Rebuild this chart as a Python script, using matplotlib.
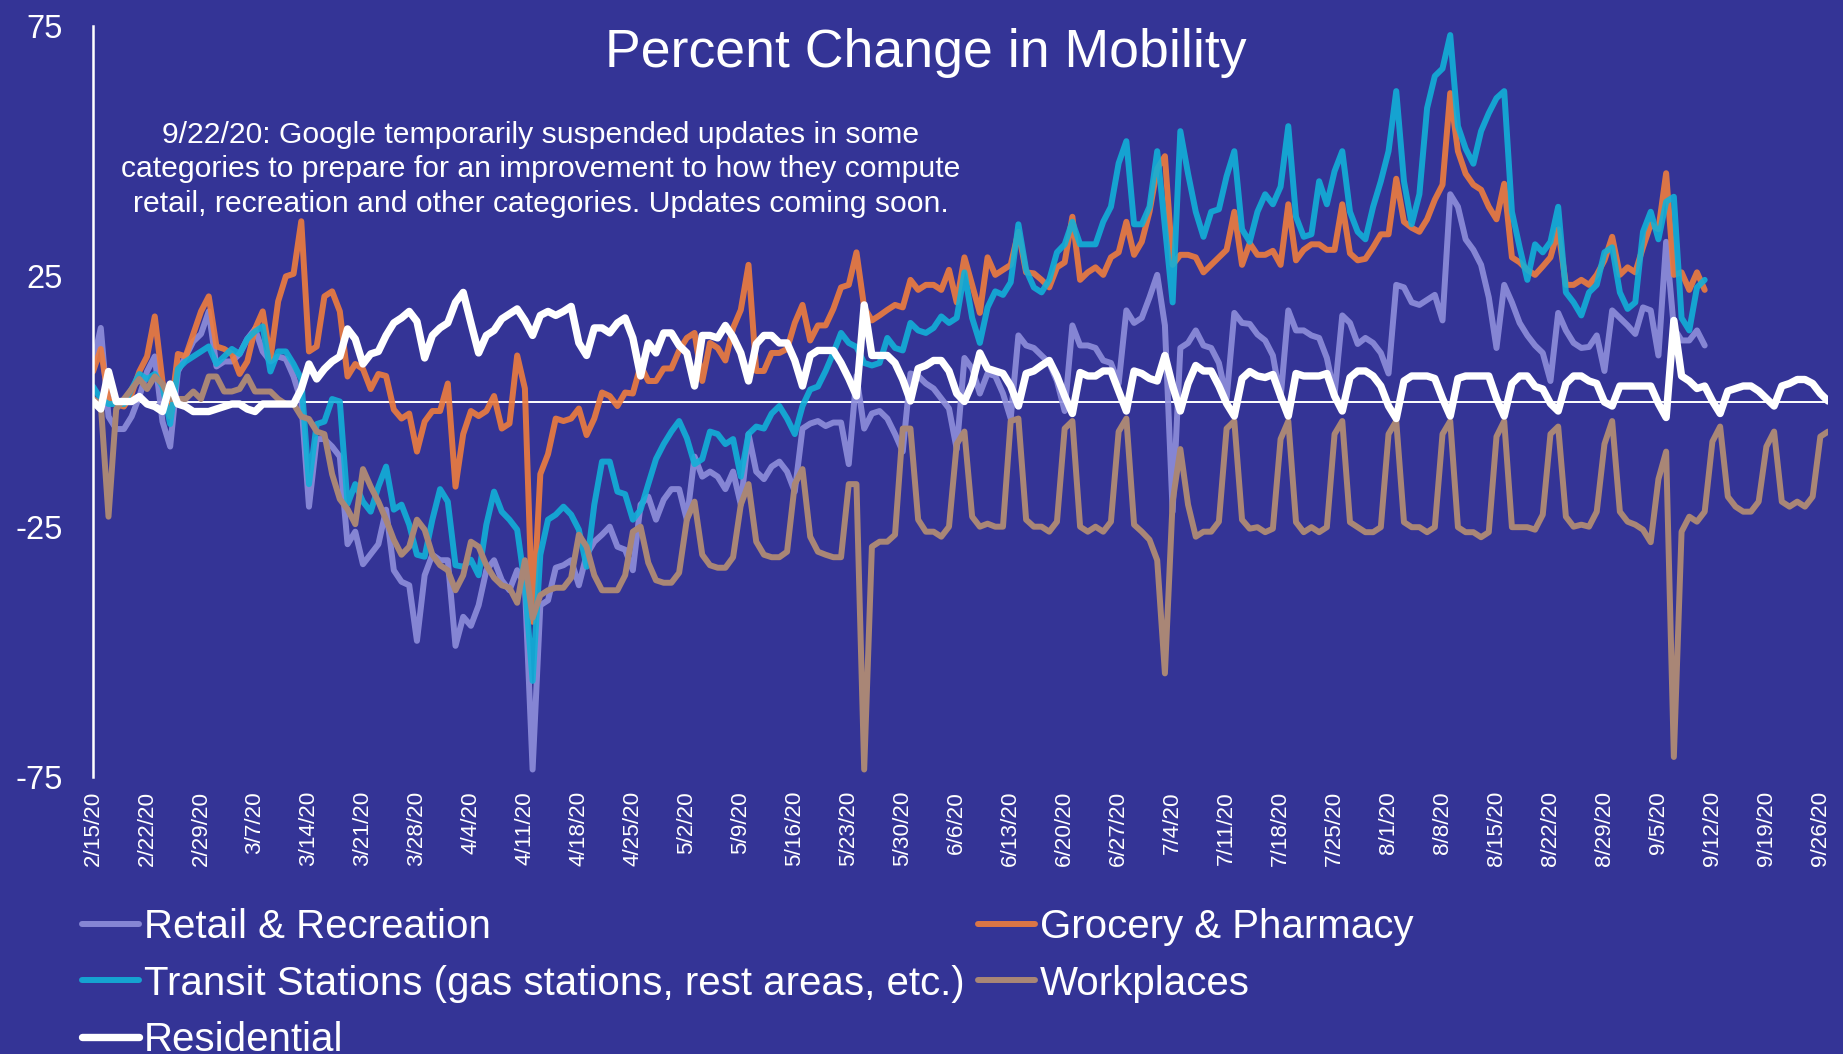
import matplotlib
matplotlib.use("Agg")
import matplotlib.pyplot as plt
import numpy as np

plt.rcParams['font.family'] = ['Liberation Sans', 'DejaVu Sans']
plt.rcParams['axes.unicode_minus'] = False

# daily values, day 0 = 2/15/20
retail = [
    7.7, 14.7, -3, -5.5, -5.5, -3, 1,
    6, 9, -4, -9, 6, 9, 12,
    13.5, 18, 7, 8, 8, 9.5, 12.5,
    14.5, 10, 8, 9, 8.5, 5, 0,
    -21, -7.5, -7.5, -9, -11, -28.5, -26,
    -32.5, -30.5, -28.5, -21.6, -33.7, -36, -36.7,
    -47.8, -34.7, -30.6, -31.7, -31.7, -48.8, -43,
    -44.8, -40.7, -33.7, -31.7, -35.7, -37.7, -33.7,
    -36.7, -73.5, -40.7, -39.7, -33.2, -32.7, -31.7,
    -36.7, -30.6, -28, -26.6, -25, -29, -29.6,
    -33.7, -20.6, -19, -23.6, -19.6, -17.5, -17.5,
    -23.6, -11, -15, -14, -15, -17.5, -14,
    -20.6, -6.5, -14, -15.5, -13, -12, -14,
    -18, -5.4, -4.4, -3.9, -4.9, -4.2, -4.2,
    -12.5, 5.1, -5.4, -2.4, -1.9, -3.4, -6.5,
    -10, 5.6, 5.1, 3.6, 2.6, 0.6, -1.4,
    -9.5, 8.7, 6.6, 1.6, 5.6, 5.1, 1.6,
    -3.4, 13.2, 11.2, 10.7, 9.2, 7.7, 4.1,
    -1.9, 15.2, 11.2, 11.2, 10.7, 8.2, 7.7,
    3.6, 18.2, 15.7, 16.7, 20.8, 25.3, 15.2,
    -22, 10.7, 11.7, 14.2, 11.2, 10.7, 7.7,
    0.6, 17.7, 15.7, 15.5, 13.4, 12.2, 9.2,
    0.6, 18.2, 14.2, 14.2, 13.2, 12.7, 8.7,
    1.4, 17.2, 15.7, 11.5, 12.7, 11.7, 9.7,
    5.6, 23.3, 22.8, 19.8, 19.3, 20.3, 21.3,
    16.2, 41.4, 38.9, 32.4, 30.3, 27.3, 20.8,
    10.7, 23.3, 19.8, 15.7, 13.2, 11.2, 9.7,
    4.1, 17.7, 14.2, 11.7, 10.7, 10.9, 13.2,
    6.1, 18.2, 16.7, 15.2, 13.5, 18.8, 18.2,
    9.2, 31.9, 14.7, 12.2, 12.2, 14.2, 11.2,
]

grocery = [
    6, 10.5, 0.5, -0.5, -1, 1.5, 6,
    9, 17, 4, -3, 9.5, 9, 13.5,
    18, 21, 11, 10.5, 9.5, 5.5, 8,
    14.5, 18, 8.5, 20, 25, 25.5, 36,
    10, 11, 21, 22, 18, 5, 7.5,
    6.5, 2.5, 5.5, 5.1, -1.6, -3.4, -2.4,
    -10, -4, -1.9, -1.9, 3.6, -17, -6.5,
    -1.9, -2.9, -1.9, 1.1, -5.4, -4.4, 9.2,
    2.6, -44, -14.5, -10.5, -3.4, -3.9, -3.4,
    -1.4, -6.7, -3.4, 1.8, 1.1, -0.9, 1.8,
    1.6, 7.2, 4.1, 4.1, 6.6, 6.6, 10.2,
    12.7, 13.7, 4.1, 11.7, 10.7, 8.2, 14.7,
    18.3, 27.3, 6.1, 6.1, 9.7, 9.7, 10.5,
    15.7, 19.3, 12.2, 15.2, 15.2, 18.5, 22.8,
    23.3, 29.8, 18.8, 16.2, 17.2, 18.3, 19.3,
    18.8, 24.3, 22.3, 23.3, 23.3, 22.3, 26.3,
    19.8, 28.8, 23.3, 17.7, 28.8, 25.3, 26.3,
    27.3, 33.9, 25.8, 25.6, 24.3, 22.8, 26.8,
    27.8, 36.9, 24.3, 25.8, 26.8, 25.3, 28.8,
    29.8, 35.9, 29.3, 31.9, 37.9, 46.5, 49,
    27.3, 29.3, 29.3, 28.8, 25.8, 27.3, 28.8,
    30.3, 37.9, 27.3, 31.6, 29.3, 29.3, 30.1,
    27.3, 39.4, 28.2, 30.3, 31.4, 31.4, 30.3,
    30.3, 39.4, 29.6, 28.2, 28.5, 30.8, 33.4,
    33.4, 44.5, 35.9, 34.7, 33.9, 36.4, 40.3,
    43.3, 61.6, 50, 45.5, 43.3, 42.3, 38.9,
    36.4, 43.5, 28.8, 27.8, 26.3, 25.3, 27,
    28.8, 34.4, 23.3, 23.3, 24.3, 23.3, 25.3,
    28.2, 32.9, 25.3, 26.8, 25.8, 30.8, 35.4,
    34.4, 45.6, 25.3, 25.8, 22.3, 25.8, 22.3,
]

transit = [
    3, 0.5, -0.5, -0.5, -0.5, 2.5, 5.5,
    4.5, 5.5, 3, -4.5, 6.5, 8, 9,
    10, 11, 7.5, 9, 10.5, 9.5, 12.5,
    14, 15, 6, 10, 10, 7.5, 4.5,
    -16.5, -4.5, -4, 0.5, 0, -20.5, -16.5,
    -20, -22, -17, -13, -21.6, -20.6, -24.6,
    -30.6, -31, -23.6, -17.5, -20, -32.7, -33,
    -31.6, -34.7, -24.6, -18, -22, -23.6, -25.6,
    -36.7, -55.8, -30.6, -23.6, -22.6, -21, -22.6,
    -25.6, -33, -20.6, -12, -12, -18, -18.5,
    -23.6, -21.6, -16.5, -11.5, -8.5, -6, -3.9,
    -7.3, -12.5, -11.5, -6, -6.5, -8.5, -7.5,
    -15, -6.5, -5, -5.4, -2.4, -0.9, -3.4,
    -6.5, -0.9, 2.4, 3, 6.1, 9.7, 13.7,
    11.7, 10.9, 7.7, 7.2, 7.7, 12.7, 10.7,
    10.2, 15.7, 14.2, 13.7, 14.7, 17, 15.7,
    16.7, 25.8, 16.7, 11.7, 18.8, 22, 21.3,
    23.8, 35.4, 26.3, 22.8, 21.8, 24.3, 29.8,
    31.4, 35.9, 31.4, 31.4, 31.4, 35.9, 38.9,
    47.6, 52, 35.4, 35.4, 38.9, 50, 34.9,
    19.8, 54, 45.5, 37.9, 32.9, 37.9, 38.4,
    45, 50, 34.4, 31.9, 37.9, 41.4, 39.4,
    42.9, 55, 36.9, 32.9, 33.4, 44, 39.4,
    46, 50, 37.9, 33.9, 32.4, 38.9, 44,
    50, 62, 44, 35.4, 41.4, 58.6, 65,
    66.5, 73.2, 55, 50.5, 47.5, 54, 57.6,
    60.6, 62, 37.9, 30.8, 24.3, 31.4, 29.8,
    31.9, 38.9, 21.8, 19.8, 17.2, 21.8, 23.3,
    29.8, 30.8, 21.8, 18.5, 19.8, 33.9, 37.9,
    32.4, 39.9, 40.9, 16.7, 14.2, 22.8, 24.3,
]

workplaces = [
    0.5, -0.5, -23, -1.5, 0.5, 2.5, 4.5,
    2.5, 5, 3.5, 0.5, 0.5, 0.5, 2,
    0.5, 5, 5, 2, 2, 2.5, 5,
    2, 2, 2, 0.5, -0.5, -0.5, -3,
    -3.5, -6, -6.5, -14.5, -19.5, -21.5, -24.5,
    -13.5, -17, -20, -23.6, -27.6, -30.6, -29,
    -23.6, -25.6, -30.6, -32.7, -33.7, -37.7, -34.7,
    -28, -29, -32.7, -35.2, -36.7, -37.2, -40.2,
    -31.7, -43.2, -38.7, -37.7, -37.2, -37.2, -35.2,
    -26.6, -29, -34.7, -37.7, -37.7, -37.7, -34.7,
    -26, -25, -32.2, -35.7, -36.2, -36.2, -34.2,
    -23.6, -20, -30.6, -32.7, -33.2, -33.2, -31.1,
    -20.6, -16.5, -28, -30.6, -31.1, -31.1, -30,
    -16.5, -13.5, -27, -30, -30.6, -31.1, -31.1,
    -16.5, -16.5, -73.5, -29, -28, -28, -26.6,
    -5.4, -5.4, -23.6, -26, -26, -27, -25,
    -8.5, -6, -23, -25, -24.4, -25, -25,
    -3.9, -3.4, -23.6, -25, -25, -26, -24,
    -5.4, -3.9, -25, -26, -25, -26, -24,
    -6, -3.4, -24.6, -26, -27.6, -31.7, -54.3,
    -20, -9.5, -20.6, -27, -26, -26, -24,
    -5.4, -3.9, -23.6, -25.4, -25.1, -26.1, -25.4,
    -7.5, -3.9, -24.1, -26.1, -25.1, -26.1, -25.1,
    -6.5, -3.9, -24.1, -25.1, -26.1, -26.1, -25.1,
    -6.5, -3.9, -24.1, -25.1, -25.1, -26.1, -25.1,
    -6.5, -3.9, -25.1, -26.1, -26.1, -27.1, -26.1,
    -7, -3.9, -25.1, -25.1, -25.1, -25.6, -22.6,
    -6.5, -5, -23, -25, -24.6, -25, -22,
    -8.5, -3.9, -22, -24, -24.6, -25.6, -28.1,
    -15.5, -10, -71, -26, -23, -24, -22,
    -8, -5, -19, -21, -22, -22, -20,
    -9, -6, -20, -21, -20, -21, -19,
    -7, -6,
]

residential = [
    0, -1.5, 6, 0, 0, 0, 1,
    -0.5, -1, -2, 3.5, -0.5, -1, -2,
    -2, -2, -1.5, -1, -0.5, -0.5, -1.5,
    -2, -0.5, -0.5, -0.5, -0.5, -0.5, 2.5,
    7.5, 4.5, 6.5, 8, 9, 14.5, 12.5,
    7.5, 9.5, 10, 13.2, 15.7, 16.7, 18,
    16, 8.7, 13.2, 14.7, 15.7, 19.8, 21.8,
    15.7, 9.7, 13.2, 14.2, 16.5, 17.5, 18.5,
    16.2, 13.2, 17.2, 18, 17.2, 18, 19,
    11.7, 9.2, 14.7, 14.7, 13.7, 15.7, 16.7,
    12.7, 5.1, 11.7, 9.7, 13.7, 13.7, 11.2,
    9.7, 3.1, 13.2, 13.2, 12.7, 15.2, 12.9,
    9.7, 4.1, 11.5, 13.2, 13.2, 11.7, 11.7,
    8.2, 3.1, 9.2, 10.2, 10.2, 10.2, 7.7,
    4.6, 1.1, 19.3, 9.2, 9.2, 9.2, 7.7,
    4.4, 0.1, 6.6, 7.2, 8.2, 8.2, 6.1,
    1.6, 0, 3.6, 9.7, 6.6, 6.1, 5.6,
    3.1, -0.9, 5.6, 6.1, 7.2, 8.2, 5.1,
    1.1, -2.4, 5.8, 5.1, 5.1, 6.1, 6.1,
    2.1, -1.9, 6.1, 5.6, 4.6, 4.1, 9.2,
    3.1, -1.9, 3.6, 7.2, 6.1, 6.1, 3.1,
    -0.4, -2.9, 4.6, 6, 5.1, 4.8, 5.4,
    1.1, -2.9, 5.6, 5.1, 5.1, 5.1, 5.6,
    1.1, -1.9, 4.8, 6.1, 6.1, 5.1, 3.1,
    -0.9, -3.4, 4.1, 5.1, 5.1, 5.1, 4.6,
    0.6, -2.9, 4.6, 5.1, 5.1, 5.1, 5.1,
    0.6, -2.9, 3.6, 5.1, 5.1, 3, 2.5,
    -0.4, -1.9, 3.6, 5.1, 5.1, 4.1, 3.6,
    -0.1, -0.9, 3.1, 3.1, 3.1, 3.1, 3.1,
    -0.4, -3.2, 16.2, 5.1, 4.1, 2.6, 3.1,
    0.1, -2.4, 2.1, 2.6, 3.1, 3.1, 2.1,
    0.6, -0.9, 3.1, 3.6, 4.4, 4.4, 3.6,
    1.6, 0.1,
]

tick_labels = ['2/15/20', '2/22/20', '2/29/20', '3/7/20', '3/14/20', '3/21/20',
               '3/28/20', '4/4/20', '4/11/20', '4/18/20', '4/25/20', '5/2/20',
               '5/9/20', '5/16/20', '5/23/20', '5/30/20', '6/6/20', '6/13/20',
               '6/20/20', '6/27/20', '7/4/20', '7/11/20', '7/18/20', '7/25/20',
               '8/1/20', '8/8/20', '8/15/20', '8/22/20', '8/29/20', '9/5/20',
               '9/12/20', '9/19/20', '9/26/20']

series = [
    ('Retail & Recreation', retail, '#8f8fdc', 4.3),
    ('Grocery & Pharmacy', grocery, '#ee7d3e', 4.3),
    ('Transit Stations (gas stations, rest areas, etc.)', transit, '#12b0d8', 4.3),
    ('Workplaces', workplaces, '#a98676', 4.3),
    ('Residential', residential, '#ffffff', 5.3),
]

BG = '#343496'

fig = plt.figure(figsize=(18.43, 10.54), dpi=100, facecolor=BG)
ax = fig.add_axes([0.0505, 0.2628, 0.9414, 0.7125])
ax.set_facecolor(BG)

ax.axhline(0, color='white', lw=1.4, zorder=1)

lines = {}
for name, vals, col, lw in series:
    x = np.arange(len(vals))
    alpha = 1.0 if name in ('Residential', 'Workplaces') else 0.9
    ln, = ax.plot(x, vals, color=col, lw=lw, alpha=alpha, zorder=2,
                  solid_joinstyle='round', solid_capstyle='round')
    lines[name] = ln

ax.set_xlim(0, 225)
ax.set_ylim(-75, 75)
ax.set_yticks([-75, -25, 25, 75])
ax.set_xticks(np.arange(0, 225, 7))
ax.set_xticklabels(tick_labels, rotation=90)
ax.tick_params(axis='y', length=0, pad=22, labelsize=23.5, labelcolor='white')
ax.tick_params(axis='x', length=0, pad=10, labelsize=16.2, labelcolor='white')
for s in ['top', 'right', 'bottom']:
    ax.spines[s].set_visible(False)
ax.spines['left'].set_color('white')
ax.spines['left'].set_linewidth(1.8)

fig.text(0.5025, 0.9495, 'Percent Change in Mobility', ha='center', va='center',
         fontsize=38.6, color='white')
fig.text(0.2935, 0.8395,
         '9/22/20: Google temporarily suspended updates in some\n'
         'categories to prepare for an improvement to how they compute\n'
         'retail, recreation and other categories. Updates coming soon.',
         ha='center', va='center', fontsize=21.7, linespacing=1.3, color='white')

order = ['Retail & Recreation', 'Transit Stations (gas stations, rest areas, etc.)',
         'Residential', 'Grocery & Pharmacy', 'Workplaces']
fig.legend([lines[n] for n in order], order, loc='upper left',
           bbox_to_anchor=(0.0445, 0.1385), ncol=2, frameon=False, fontsize=29,
           handlelength=1.42, handletextpad=0.12, columnspacing=0.32,
           labelspacing=0.46, borderpad=0, borderaxespad=0, labelcolor='white')

fig.savefig('out.png', dpi=100, facecolor=BG)
